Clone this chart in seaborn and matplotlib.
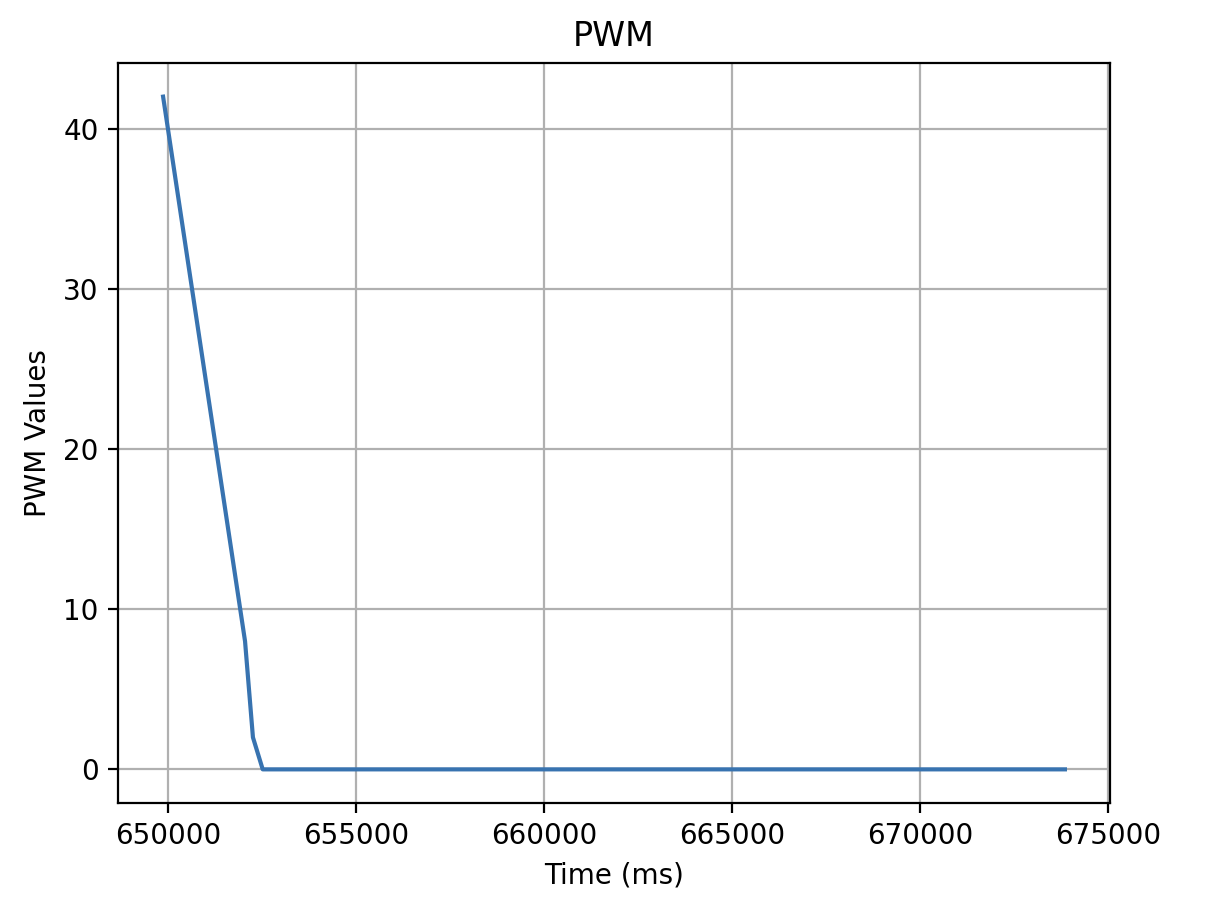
import matplotlib
matplotlib.use("Agg")
import matplotlib.pyplot as plt
import seaborn as sns
import pandas as pd

time_ms = [649870, 652050, 652260, 652520, 673860]
pwm_values = [42, 8, 2, 0, 0]

df = pd.DataFrame({"Time (ms)": time_ms, "PWM Values": pwm_values})

fig = plt.figure(figsize=(6.12, 4.53), dpi=200)
W, H = 1224, 906
ax = fig.add_axes([118 / W, 1 - 803 / H, (1110 - 118) / W, (803 - 63) / H])
sns.lineplot(data=df, x="Time (ms)", y="PWM Values", ax=ax, color="#3873b0", linewidth=1.5)
ax.set_title("PWM")
ax.set_xlabel("Time (ms)")
ax.set_ylabel("PWM Values")
ax.grid(True)
ax.ticklabel_format(axis="x", style="plain", useOffset=False)
fig.savefig("out.png", dpi=200)
